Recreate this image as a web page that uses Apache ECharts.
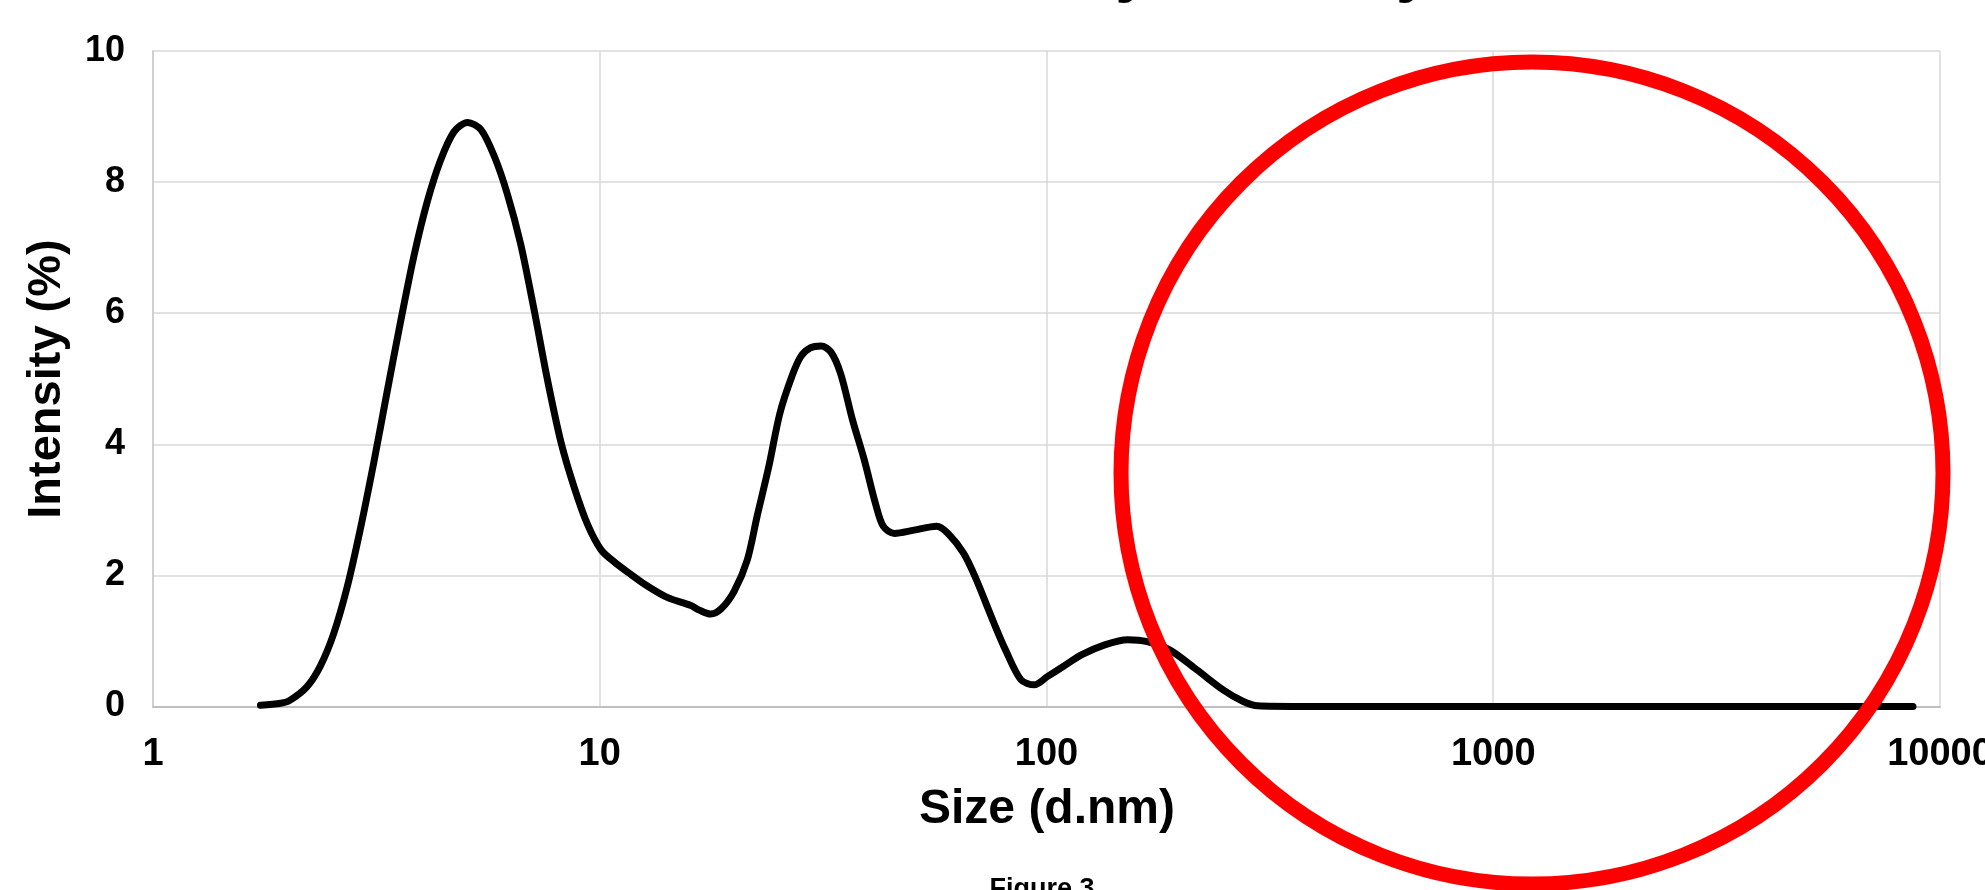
<!DOCTYPE html>
<html>
<head>
<meta charset="utf-8">
<script src="https://cdn.jsdelivr.net/npm/echarts@6/dist/echarts.min.js"></script>
<style>
html,body{margin:0;padding:0;background:#fff;}
#chart{width:1985px;height:890px;}
</style>
</head>
<body>
<div id="chart"></div>
<script>
// Size (d.nm) and Intensity (%)
const sizes = [1.74, 1.93, 2.02, 2.21, 2.37, 2.54, 2.72, 2.91, 3.12, 3.34, 3.58, 3.84, 4.11, 4.40, 4.72, 5.06, 5.42, 5.81, 6.21, 6.65, 7.13, 7.64, 8.19, 8.77, 9.40, 10.07, 10.8, 11.6, 12.7, 14.2, 16.0, 16.7, 17.7, 18.7, 20.0, 21.4, 22.5, 23.9, 25.3, 26.9, 28.2, 29.6, 31.3, 32.9, 34.6, 36.8, 39.1, 41.4, 43.1, 45.7, 50.5, 56.8, 60.2, 65.2, 69.2, 76.3, 81.0, 87.6, 93.9, 100.6, 109, 120, 135, 152, 168, 189, 217, 249, 275, 297, 368, 600, 1000, 2000, 5000, 8700];
const intensity = [0.02, 0.05, 0.09, 0.30, 0.62, 1.12, 1.82, 2.70, 3.72, 4.79, 5.86, 6.88, 7.70, 8.33, 8.77, 8.91, 8.80, 8.39, 7.82, 7.06, 6.05, 4.98, 4.03, 3.34, 2.77, 2.39, 2.20, 2.04, 1.85, 1.66, 1.54, 1.47, 1.41, 1.49, 1.76, 2.24, 2.90, 3.66, 4.47, 5.03, 5.34, 5.47, 5.50, 5.41, 5.08, 4.37, 3.76, 3.10, 2.75, 2.64, 2.69, 2.75, 2.64, 2.34, 1.98, 1.27, 0.86, 0.41, 0.33, 0.46, 0.61, 0.79, 0.94, 1.02, 0.99, 0.86, 0.56, 0.25, 0.08, 0.01, 0, 0, 0, 0, 0, 0];
const xTickLabels = ['1', '10', '100', '1000', '10000'];
const yTicks = [0, 2, 4, 6, 8, 10];

const FONT = '"Liberation Sans", Arial, Helvetica, sans-serif';
const chart = echarts.init(document.getElementById('chart'), null, {renderer: 'canvas'});

const option = {
  animation: false,
  backgroundColor: '#ffffff',
  grid: {left: 153, right: 45, top: 51, bottom: 183.5, containLabel: false, outerBoundsMode: 'none'},
  xAxis: {
    type: 'log', logBase: 10, min: 1, max: 10000,
    axisLine: {show: true, lineStyle: {color: '#bfbfbf', width: 2}},
    axisTick: {show: false},
    minorTick: {show: false},
    axisLabel: {
      fontSize: 38, fontWeight: 'bold', color: '#000', fontFamily: FONT, margin: 29,
      formatter: function (v) {
        const idx = Math.round(Math.log10(v));
        return xTickLabels[idx] !== undefined ? xTickLabels[idx] : '';
      }
    },
    splitLine: {show: true, lineStyle: {color: '#d9d9d9', width: 1.5}}
  },
  yAxis: {
    type: 'value', min: yTicks[0], max: yTicks[yTicks.length - 1], interval: 2,
    axisLine: {show: true, lineStyle: {color: '#d0d0d0', width: 2}},
    axisTick: {show: false},
    axisLabel: {fontSize: 36, fontWeight: 'bold', color: '#000', fontFamily: FONT, margin: 28},
    splitLine: {show: true, lineStyle: {color: '#d9d9d9', width: 1.5}}
  },
  series: [{
    type: 'line',
    data: sizes.map((s, i) => [s, intensity[i]]),
    showSymbol: false,
    smooth: 0.3,
    lineStyle: {color: '#000', width: 7, cap: 'round', join: 'round'},
    z: 3
  }],
  graphic: [
    {type: 'text', x: 992.5, y: -28, z: 10,
     style: {text: 'Size Distribution by Intensity', font: 'bold 64px ' + FONT, fill: '#000', textAlign: 'center', textVerticalAlign: 'middle'}},
    {type: 'text', x: 47, y: 379, rotation: Math.PI / 2, z: 10,
     style: {text: 'Intensity (%)', font: 'bold 47px ' + FONT, fill: '#000', textAlign: 'center', textVerticalAlign: 'middle'}},
    {type: 'text', x: 1047, y: 810, z: 10,
     style: {text: 'Size (d.nm)', font: 'bold 48px ' + FONT, fill: '#000', textAlign: 'center', textVerticalAlign: 'middle'}},
    {type: 'text', x: 1042, y: 890, z: 10,
     style: {text: 'Figure 3', font: 'bold 27px ' + FONT, fill: '#000', textAlign: 'center', textVerticalAlign: 'middle'}},
    {type: 'circle', shape: {cx: 1532, cy: 473, r: 411}, z: 20,
     style: {fill: 'none', stroke: '#ff0000', lineWidth: 15}}
  ]
};
chart.setOption(option);
</script>
</body>
</html>
